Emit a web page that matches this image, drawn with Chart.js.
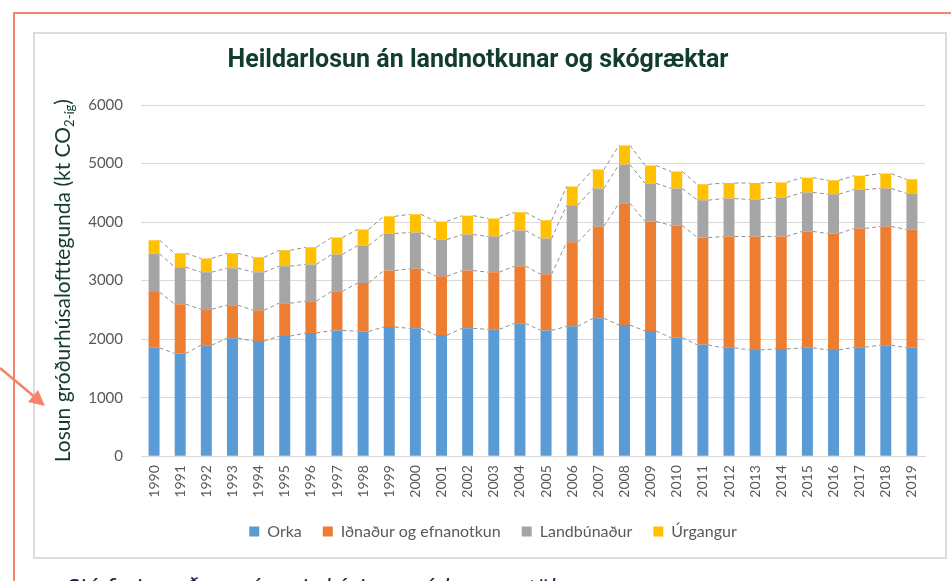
<!DOCTYPE html>
<html>
<head>
<meta charset="utf-8">
<script src="https://cdn.jsdelivr.net/npm/chart.js@4"></script>
<style>
  html, body { margin: 0; padding: 0; background: #ffffff; }
  body { width: 951px; height: 581px; position: relative; overflow: hidden; }
  #redframe { position: absolute; left: 13px; top: 12px; width: 1000px; height: 700px; border: 2px solid #f5846e; box-sizing: border-box; }
  #chartbox { position: absolute; left: 33px; top: 32px; width: 914px; height: 527px; border: 2px solid #dcdcdc; box-sizing: border-box; background: #ffffff; }
  #cv { position: absolute; left: 0; top: 0; }
  #arrow { position: absolute; left: 0; top: 0; }
  #note { position: absolute; left: 66px; top: 570px; font: italic 25px "Open Sans", sans-serif; color: #1b1f4b; white-space: nowrap; }
</style>
</head>
<body>
<div id="redframe"></div>
<div id="chartbox"></div>
<canvas id="cv" width="951" height="581"></canvas>
<svg id="arrow" width="60" height="420" viewBox="0 0 60 420">
  <line x1="0" y1="368" x2="36" y2="398" stroke="#f5846e" stroke-width="2.5"/>
  <polygon points="45,406 28,402 38,390" fill="#f5846e"/>
</svg>
<div id="note">Sjá fyrir neðan nánari skýringar á losunartölum</div>
<script>
const years = ['1990','1991','1992','1993','1994','1995','1996','1997','1998','1999','2000','2001','2002','2003','2004','2005','2006','2007','2008','2009','2010','2011','2012','2013','2014','2015','2016','2017','2018','2019'];
const orka = [1851,1753,1897,2017,1966,2052,2103,2149,2132,2207,2184,2069,2184,2167,2270,2149,2218,2356,2241,2138,2023,1902,1851,1816,1833,1851,1816,1862,1897,1851];
const idnadur = [954,845,614,563,528,563,546,667,828,965,1017,1006,988,977,977,960,1437,1569,2081,1873,1920,1834,1902,1937,1920,1988,1989,2029,2028,2023];
const landbunadur = [655,632,633,633,650,632,627,632,638,633,621,626,615,609,609,609,632,650,661,650,632,638,649,632,667,667,672,666,650,615];
const urgangur = [230,236,235,253,253,270,293,288,276,293,310,310,322,310,311,311,322,322,327,305,287,270,265,282,258,253,236,236,253,241];
const seriesNames = ['Orka','Iðnaður og efnanotkun','Landbúnaður','Úrgangur'];
const seriesColors = ['#5b9bd5','#ed7d31','#a5a5a5','#ffc000'];
const yTicks = [0,1000,2000,3000,4000,5000,6000];
const chartTitle = 'Heildarlosun án landnotkunar og skógræktar';
const yTitleMain = 'Losun gróðurhúsalofttegunda (kt CO';
const yTitleSub = '2-íg';
const yTitleEnd = ')';

const seriesLines = {
  id: 'seriesLines',
  afterDatasetsDraw(chart) {
    const ctx = chart.ctx;
    ctx.save();
    ctx.strokeStyle = '#8f8f8f';
    ctx.lineWidth = 1;
    ctx.setLineDash([4, 3]);
    chart.data.datasets.forEach((ds, i) => {
      const meta = chart.getDatasetMeta(i);
      const els = meta.data;
      ctx.beginPath();
      for (let j = 0; j < els.length - 1; j++) {
        const a = els[j], b = els[j + 1];
        ctx.moveTo(a.x + a.width / 2, a.y);
        ctx.lineTo(b.x - b.width / 2, b.y);
      }
      ctx.stroke();
    });
    ctx.restore();
  }
};

const chartTitlePlugin = {
  id: 'chartTitlePlugin',
  afterDraw(chart) {
    const ctx = chart.ctx;
    ctx.save();
    ctx.fillStyle = '#123c2c';
    ctx.font = 'bold 25px "Liberation Sans Narrow", Roboto, sans-serif';
    ctx.textAlign = 'center';
    ctx.textBaseline = 'middle';
    ctx.fillText(chartTitle, 478, 61);
    ctx.restore();
  }
};

const yAxisTitle = {
  id: 'yAxisTitle',
  afterDraw(chart) {
    const ctx = chart.ctx;
    const area = chart.chartArea;
    const cy = (area.top + area.bottom) / 2;
    const cx = 70;
    ctx.save();
    ctx.translate(cx, cy);
    ctx.rotate(-Math.PI / 2);
    ctx.fillStyle = '#123c2c';
    const mainFont = '21px Lato, sans-serif';
    const subFont = '13px Lato, sans-serif';
    ctx.font = mainFont;
    const w1 = ctx.measureText(yTitleMain).width;
    const w3 = ctx.measureText(yTitleEnd).width;
    ctx.font = subFont;
    const w2 = ctx.measureText(yTitleSub).width;
    const total = w1 + w2 + w3;
    let x = -total / 2;
    ctx.textBaseline = 'alphabetic';
    ctx.textAlign = 'left';
    ctx.font = mainFont;
    ctx.fillText(yTitleMain, x, 0);
    x += w1;
    ctx.font = subFont;
    ctx.fillText(yTitleSub, x, 4);
    x += w2;
    ctx.font = mainFont;
    ctx.fillText(yTitleEnd, x, 0);
    ctx.restore();
  }
};

const dataArrays = [orka, idnadur, landbunadur, urgangur];

new Chart(document.getElementById('cv'), {
  type: 'bar',
  data: {
    labels: years,
    datasets: dataArrays.map((arr, i) => ({
      label: seriesNames[i],
      data: arr,
      backgroundColor: seriesColors[i],
      borderWidth: 0,
      categoryPercentage: 1.0,
      barPercentage: 0.42
    }))
  },
  options: {
    responsive: false,
    animation: false,
    devicePixelRatio: 1,
    layout: { padding: { left: 61, right: 26, top: 105, bottom: 31.4 } },
    plugins: {
      title: { display: false },
      legend: {
        display: true,
        position: 'bottom',
        labels: {
          color: '#595959',
          font: { family: 'Lato, sans-serif', size: 16 },
          boxWidth: 10,
          boxHeight: 10,
          padding: 21
        }
      },
      tooltip: { enabled: false }
    },
    scales: {
      x: {
        stacked: true,
        grid: { display: false, drawTicks: false },
        border: { display: true, color: '#d9d9d9', width: 1 },
        ticks: {
          color: '#595959',
          font: { family: 'Lato, sans-serif', size: 14 },
          minRotation: 90,
          maxRotation: 90,
          padding: 9,
          autoSkip: false
        },
        afterFit(scale) { scale.height = 46.4; }
      },
      y: {
        stacked: true,
        min: 0,
        max: 6000,
        afterBuildTicks(scale) { scale.ticks = yTicks.map(v => ({ value: v })); },
        grid: { color: '#d9d9d9', lineWidth: 1, drawTicks: false },
        border: { display: false },
        ticks: {
          color: '#595959',
          font: { family: 'Lato, sans-serif', size: 15 },
          padding: 18,
          callback: (v) => String(v)
        },
        afterFit(scale) { scale.width = 80; }
      }
    }
  },
  plugins: [seriesLines, chartTitlePlugin, yAxisTitle]
});
</script>
</body>
</html>
